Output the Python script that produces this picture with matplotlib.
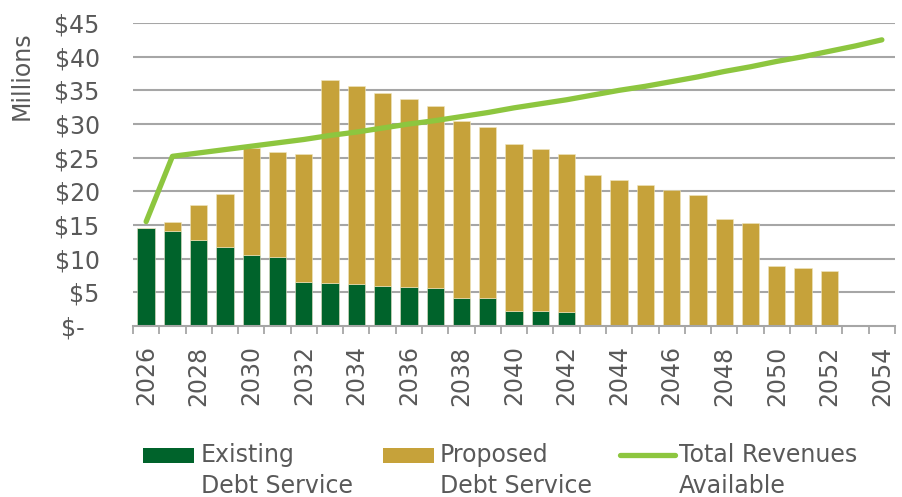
import matplotlib
matplotlib.use("Agg")
import matplotlib.pyplot as plt
from matplotlib.patches import Rectangle
from matplotlib.lines import Line2D
from matplotlib.ticker import FixedLocator

years = list(range(2026, 2055))

existing = [14.6, 14.1, 12.7, 11.7, 10.6, 10.2, 6.6, 6.4, 6.2, 6.0, 5.8, 5.7,
            4.2, 4.1, 2.3, 2.2, 2.1, 0, 0, 0, 0, 0, 0, 0, 0, 0, 0, 0, 0]
total_debt = [14.6, 15.4, 18.0, 19.6, 26.4, 25.9, 25.6, 36.5, 35.6, 34.6, 33.7, 32.7,
              30.5, 29.6, 27.1, 26.3, 25.5, 22.5, 21.7, 20.9, 20.2, 19.4, 15.9, 15.3,
              8.9, 8.6, 8.2, 0, 0]
revenues = [15.5, 25.2, 25.7, 26.2, 26.7, 27.2, 27.7, 28.3, 28.8, 29.4, 30.0, 30.5,
            31.1, 31.7, 32.4, 33.0, 33.6, 34.3, 35.0, 35.6, 36.3, 37.0, 37.8, 38.5,
            39.3, 40.0, 40.8, 41.6, 42.5]
proposed = [round(t - e, 2) for t, e in zip(total_debt, existing)]

y_ticks = [0, 5, 10, 15, 20, 25, 30, 35, 40, 45]
y_labels = ["$-  ", "$5", "$10", "$15", "$20", "$25", "$30", "$35", "$40", "$45"]

GREEN = "#00632B"
GOLD = "#C6A23A"
LINE = "#8DC63F"
GRID = "#A6A6A6"
TEXT = "#595959"

plt.rcParams['font.family'] = ['DejaVu Sans']

W, H = 903, 497
fig = plt.figure(figsize=(W / 100, H / 100), dpi=100)
ax = fig.add_axes([133 / W, 1 - 326 / H, (895 - 133) / W, (326 - 23) / H])

x = list(range(len(years)))
ax.bar(x, existing, width=0.66, color=GREEN, edgecolor="#e8e2c8", linewidth=0.4, zorder=2)
ax.bar(x, proposed, bottom=existing, width=0.66, color=GOLD, edgecolor="#efe6c0",
       linewidth=0.4, zorder=2)
ax.plot(x, revenues, color=LINE, linewidth=3.8, solid_capstyle="round",
        solid_joinstyle="round", zorder=3)

ax.set_xlim(-0.5, len(years) - 0.5)
ax.set_ylim(0, 45)
ax.set_yticks(y_ticks)
ax.set_yticklabels(y_labels)
for t in y_ticks[1:]:
    ax.axhline(t, color=GRID, linewidth=1.5, zorder=1)

ax.set_xticks(x[::2])
ax.set_xticklabels([str(y) for y in years[::2]], rotation=90)
ax.xaxis.set_minor_locator(FixedLocator([i - 0.5 for i in range(len(years) + 1)]))
ax.tick_params(axis="x", which="major", length=0, pad=14, labelsize=17, labelcolor=TEXT)
ax.tick_params(axis="x", which="minor", length=6, width=1.3, color=GRID)
ax.tick_params(axis="y", length=0, pad=24, labelsize=17, labelcolor=TEXT)

for side in ["top", "right", "left"]:
    ax.spines[side].set_visible(False)
ax.spines["bottom"].set_color(GRID)
ax.spines["bottom"].set_linewidth(1.5)

fig.text(22 / W, 1 - 76 / H, "Millions", rotation=90, ha="center", va="center",
         fontsize=17, color=TEXT)

# legend drawn by hand so the key sits next to the first text line
def px(xp, yp):
    return xp / W, 1 - yp / H

legend_items = [
    ("patch", GREEN, 143, 201, "Existing\nDebt Service"),
    ("patch", GOLD, 383, 440, "Proposed\nDebt Service"),
    ("line", LINE, 620, 679, "Total Revenues\nAvailable"),
]
for kind, col, x0, tx, label in legend_items:
    if kind == "patch":
        fig.add_artist(Rectangle(px(x0, 463), 51 / W, 15 / H, transform=fig.transFigure,
                                 facecolor=col, edgecolor="none"))
    else:
        fig.add_artist(Line2D([x0 / W, (x0 + 55) / W], [1 - 455 / H, 1 - 455 / H],
                              transform=fig.transFigure, color=col, linewidth=3.8,
                              solid_capstyle="round"))
    fig.text(tx / W, 1 - 443 / H, label, ha="left", va="top", fontsize=17,
             color=TEXT, linespacing=1.35)

fig.savefig("out.png", dpi=100)
